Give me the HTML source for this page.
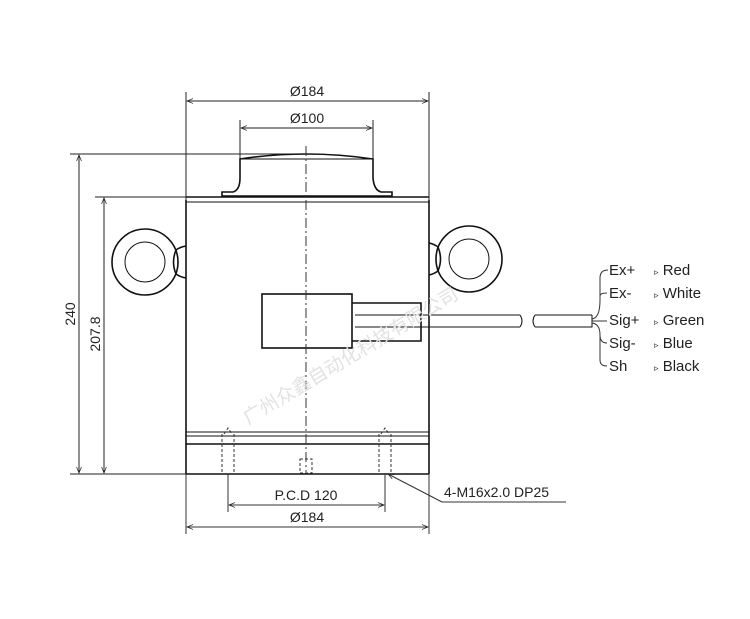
<!DOCTYPE html>
<html><head><meta charset="utf-8"><style>
html,body{margin:0;padding:0;background:#fff;}
svg{display:block;}
text{font-family:"Liberation Sans","Noto Sans CJK SC",sans-serif;fill:#222;}
</style></head><body>
<svg width="750" height="619" viewBox="0 0 750 619" xmlns="http://www.w3.org/2000/svg">
<defs>
<marker id="a" viewBox="0 0 10 10" refX="10" refY="5" markerWidth="8" markerHeight="6" orient="auto-start-reverse"><path d="M0,1 L10,5 L0,9" fill="none" stroke="#222" stroke-width="1.2"/></marker>
</defs>
<g stroke="#222" fill="none" stroke-width="1">
<line x1="186" y1="92" x2="186" y2="200"/><line x1="429" y1="92" x2="429" y2="200"/>
<line x1="187" y1="101" x2="428" y2="101" marker-start="url(#a)" marker-end="url(#a)"/>
<line x1="240" y1="120" x2="240" y2="160"/><line x1="373" y1="120" x2="373" y2="160"/>
<line x1="241" y1="128" x2="372" y2="128" marker-start="url(#a)" marker-end="url(#a)"/>
<line x1="70" y1="154" x2="300" y2="154"/>
<line x1="95" y1="197" x2="186" y2="197"/>
<line x1="70" y1="474" x2="186" y2="474"/>
<line x1="79" y1="155" x2="79" y2="473" marker-start="url(#a)" marker-end="url(#a)"/>
<line x1="104" y1="198" x2="104" y2="473" marker-start="url(#a)" marker-end="url(#a)"/>
</g>
<g stroke="#111" fill="none" stroke-width="1.6">
<path d="M240,159 Q306,149 373,159 L373,178 Q374,190 381,192 L392,192 L392,196 L222,196 L222,192 L233,192 Q240,190 240,178 Z"/>
<line x1="240" y1="159" x2="373" y2="159" stroke-width="0.9"/>
<line x1="186" y1="197" x2="429" y2="197"/>
<line x1="186" y1="202" x2="429" y2="202" stroke-width="0.9"/>
<line x1="186" y1="200" x2="186" y2="474"/><line x1="429" y1="200" x2="429" y2="474"/>
<line x1="186" y1="474" x2="429" y2="474"/>
<line x1="186" y1="432" x2="429" y2="432" stroke-width="0.9"/>
<line x1="186" y1="436" x2="429" y2="436" stroke-width="0.9"/>
<line x1="186" y1="444" x2="429" y2="444"/>
<circle cx="145" cy="262" r="33"/><circle cx="145" cy="262" r="20" stroke-width="1"/>
<path d="M176,250 Q180,247 186,246 M176,274 Q180,277 186,278 M176,250 Q171,262 176,274"/>
<circle cx="469" cy="259" r="33"/><circle cx="469" cy="259" r="20" stroke-width="1"/>
<path d="M438,247 Q434,244 429,243 M438,271 Q434,274 429,275 M438,247 Q443,259 438,271"/>
<rect x="262" y="294" width="90" height="54"/>
<path d="M352,303 L421,303 L421,341 L352,341"/>
<line x1="355" y1="315" x2="421" y2="315" stroke-width="0.9"/>
<line x1="355" y1="327" x2="421" y2="327" stroke-width="0.9"/>
<line x1="421" y1="315" x2="520" y2="315" stroke-width="1"/>
<line x1="421" y1="327" x2="520" y2="327" stroke-width="1"/>
<path d="M520,315 Q524,321 520,327" stroke-width="1"/>
<path d="M535,315 Q531,321 535,327 M535,315 L592,315 M535,327 L592,327 L592,315" stroke-width="1"/>
</g>
<g stroke="#333" fill="none" stroke-width="1">
<path d="M592,319 Q600,318 600,300 L600,278 Q600,270 608,270"/>
<path d="M600,296 Q600,293 607,293"/>
<path d="M592,321 L607,321"/>
<path d="M592,323 Q600,324 600,335 Q600,343 607,343"/>
<path d="M600,335 L600,360 Q600,366 607,366"/>
<line x1="306" y1="146" x2="306" y2="472" stroke-dasharray="10,3,2,3"/>
<g stroke-dasharray="3,2">
<path d="M222,434 L222,474 M234,434 L234,474 M224,434 L228,428 L232,434"/>
<path d="M379,434 L379,474 M391,434 L391,474 M381,434 L385,428 L389,434"/>
<rect x="300" y="459" width="12" height="14"/>
</g>
<line x1="228" y1="474" x2="228" y2="512"/><line x1="385" y1="474" x2="385" y2="512"/>
<line x1="229" y1="505" x2="384" y2="505" marker-start="url(#a)" marker-end="url(#a)"/>
<line x1="186" y1="474" x2="186" y2="534"/><line x1="429" y1="474" x2="429" y2="534"/>
<line x1="187" y1="527" x2="428" y2="527" marker-start="url(#a)" marker-end="url(#a)"/>
<line x1="442" y1="502" x2="388" y2="474" marker-end="url(#a)"/>
<line x1="442" y1="502" x2="566" y2="502"/>
</g>
<g font-size="14">
<text x="307" y="96" text-anchor="middle">Ø184</text>
<text x="307" y="123" text-anchor="middle">Ø100</text>
<text x="306" y="500" text-anchor="middle">P.C.D 120</text>
<text x="307" y="522" text-anchor="middle">Ø184</text>
<text x="444" y="497">4-M16x2.0 DP25</text>
<text transform="translate(75,314) rotate(-90)" text-anchor="middle">240</text>
<text transform="translate(100,334) rotate(-90)" text-anchor="middle">207.8</text>
<text x="609" y="275" font-size="15">Ex+</text>
<text x="609" y="298" font-size="15">Ex-</text>
<text x="609" y="325" font-size="15">Sig+</text>
<text x="609" y="348" font-size="15">Sig-</text>
<text x="609" y="371" font-size="15">Sh</text>
<text x="654" y="275" font-size="15"><tspan font-size="9">▹</tspan> Red</text>
<text x="654" y="298" font-size="15"><tspan font-size="9">▹</tspan> White</text>
<text x="654" y="325" font-size="15"><tspan font-size="9">▹</tspan> Green</text>
<text x="654" y="348" font-size="15"><tspan font-size="9">▹</tspan> Blue</text>
<text x="654" y="371" font-size="15"><tspan font-size="9">▹</tspan> Black</text>
</g>
<text transform="translate(248,425) rotate(-31)" font-size="19" style="fill:#e2e2e2">广州众鑫自动化科技有限公司</text>
</svg>
</body></html>
